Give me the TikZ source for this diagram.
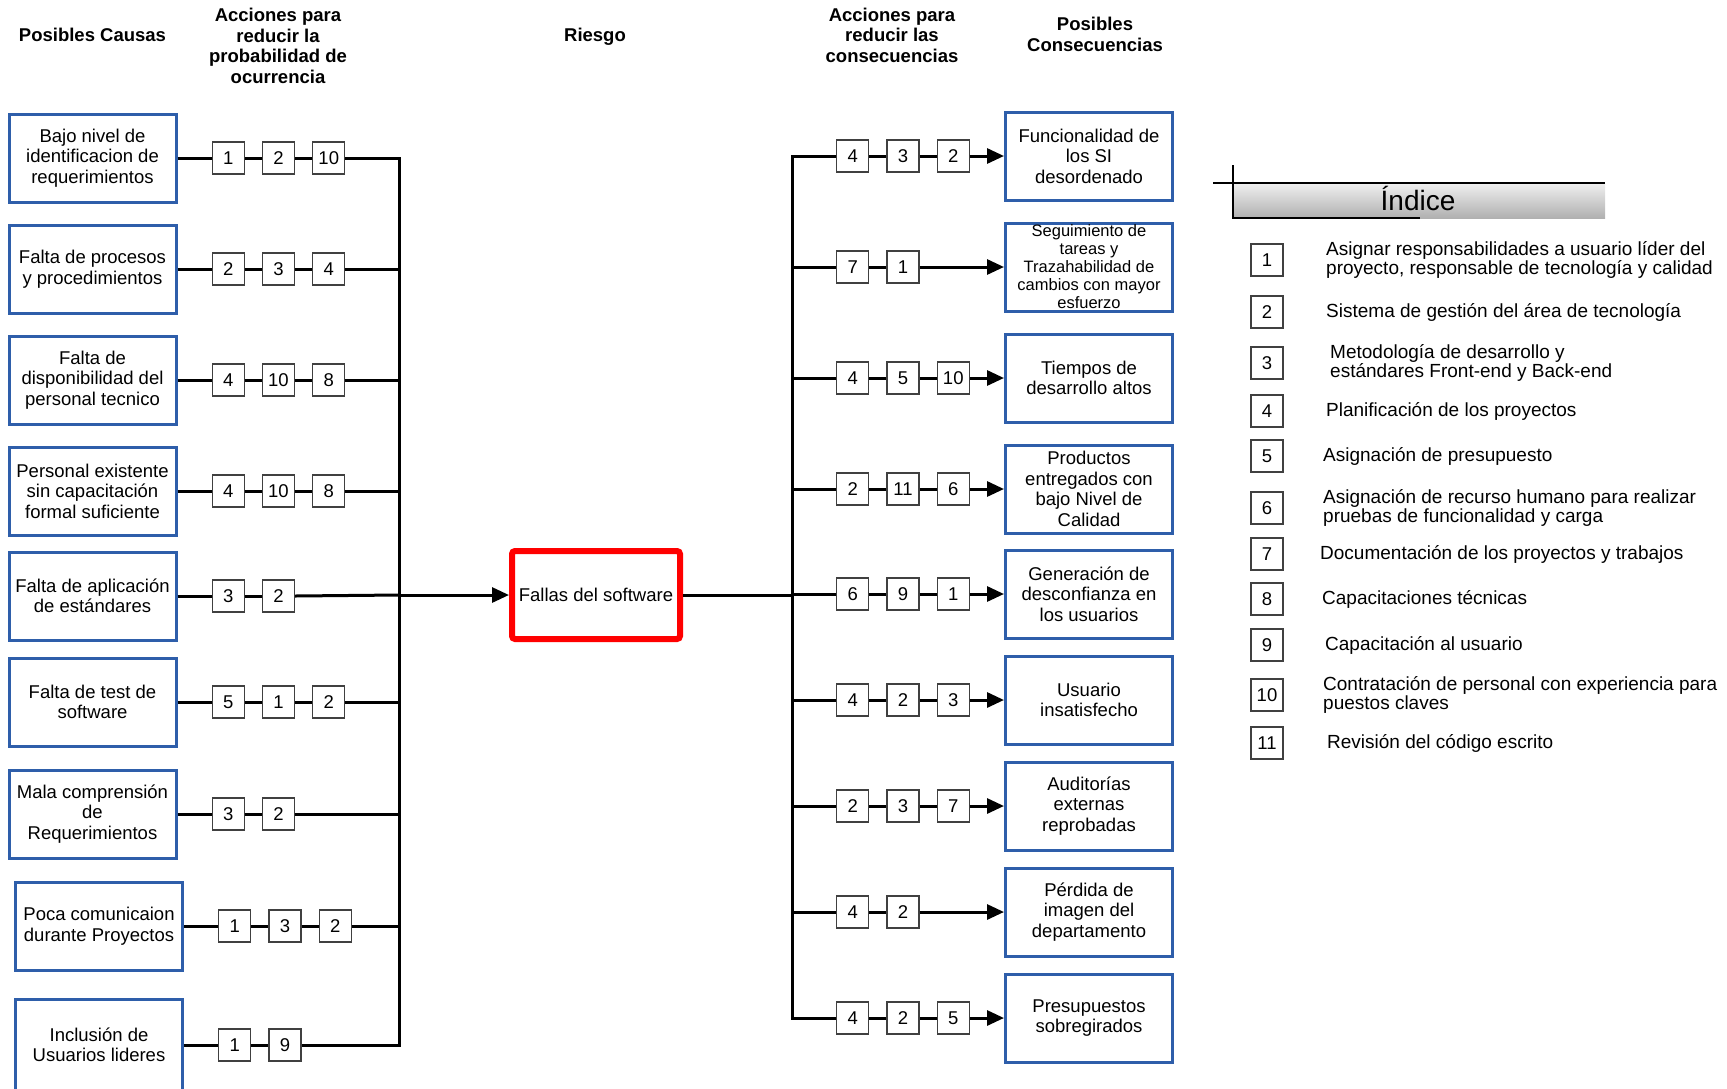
\documentclass[tikz,border=0pt]{standalone}
\usepackage{fontspec}
\setmainfont{Liberation Sans}
\usetikzlibrary{positioning,arrows.meta}
\definecolor{causeblue}{RGB}{46,94,170}

\begin{document}
\begin{tikzpicture}[
        x=1pt, y=-1pt,
        font=\fontsize{18.5}{20.5}\selectfont,
        node distance=17pt,
        header/.style={font=\fontsize{18.5}{20.5}\selectfont\bfseries, align=center},
        causa/.style={draw=causeblue, line width=3pt, minimum width=167pt, minimum height=88pt, inner sep=1pt, align=center},
        efecto/.style={causa},
        accion/.style={draw=black!75, line width=1.3pt, fill=white, minimum width=32pt, minimum height=32pt, inner sep=0pt},
        riesgo/.style={draw=red, line width=6pt, rounded corners=3pt, minimum width=168pt, minimum height=88pt, inner sep=0pt},
        indice/.style={anchor=west, align=left, inner sep=0pt, font=\fontsize{19}{19.5}\selectfont},
        link/.style={line width=3pt},
        arrow/.style={line width=3pt, -{Triangle[length=17pt,width=15pt]}},
    ]
    \useasboundingbox (0,0) rectangle (1727,1088);

    % Headers
    \node[header] (hcausas) at (92.5,35) {Posibles Causas};
    \node[header] (hprob) at (278,46) {Acciones para\\reducir la\\probabilidad de\\ocurrencia};
    \node[header] (hriesgo) at (595,37) {Riesgo};
    \node[header] (hreduc) at (892,35) {Acciones para\\reducir las\\consecuencias};
    \node[header] (hcons) at (1095,34.5) {Posibles\\Consecuencias};

    % Causes
    \node[causa] (c1) at (92.5,158) {Bajo nivel de\\identificacion de\\requerimientos};
    \node[causa] (c2) at (92.5,269) {Falta de procesos\\y procedimientos};
    \node[causa] (c3) at (92.5,380) {Falta de\\disponibilidad del\\personal tecnico};
    \node[causa] (c4) at (92.5,491) {Personal existente\\sin capacitación\\formal suficiente};
    \node[causa] (c5) at (92.5,596) {Falta de aplicación\\de estándares};
    \node[causa] (c6) at (92.5,702) {Falta de test de\\software};
    \node[causa] (c7) at (92.5,814) {Mala comprensión\\de\\Requerimientos};
    \node[causa] (c8) at (99,926) {Poca comunicaion\\durante Proyectos};
    \node[causa, minimum height=92pt] (c9) at (99,1045) {Inclusión de\\Usuarios lideres};

    % Actions on the probability
    \node[accion, right=34pt of c1] (c1a) {1};
    \node[accion, right=of c1a] (c1b) {2};
    \node[accion, right=of c1b] (c1c) {10};
    \node[accion, right=34pt of c2] (c2a) {2};
    \node[accion, right=of c2a] (c2b) {3};
    \node[accion, right=of c2b] (c2c) {4};
    \node[accion, right=34pt of c3] (c3a) {4};
    \node[accion, right=of c3a] (c3b) {10};
    \node[accion, right=of c3b] (c3c) {8};
    \node[accion, right=34pt of c4] (c4a) {4};
    \node[accion, right=of c4a] (c4b) {10};
    \node[accion, right=of c4b] (c4c) {8};
    \node[accion, right=34pt of c5] (c5a) {3};
    \node[accion, right=of c5a] (c5b) {2};
    \node[accion, right=34pt of c6] (c6a) {5};
    \node[accion, right=of c6a] (c6b) {1};
    \node[accion, right=of c6b] (c6c) {2};
    \node[accion, right=34pt of c7] (c7a) {3};
    \node[accion, right=of c7a] (c7b) {2};
    \node[accion, right=34pt of c8] (c8a) {1};
    \node[accion, right=of c8a] (c8b) {3};
    \node[accion, right=of c8b] (c8c) {2};
    \node[accion, right=34pt of c9] (c9a) {1};
    \node[accion, right=of c9a] (c9b) {9};

    % Risk
    \node[riesgo] (falla) at (596,595) {Fallas del software};
    \coordinate (busL) at (399,595);
    \coordinate (busR) at (792,595);

    % Consequences
    \node[efecto] (q1) at (1089,156) {Funcionalidad de\\los SI\\desordenado};
    \node[efecto, inner sep=0pt, font=\fontsize{16.5}{18}\selectfont] (q2) at (1089,267) {Seguimiento de\\tareas y\\Trazahabilidad de\\cambios con mayor\\esfuerzo};
    \node[efecto] (q3) at (1089,378) {Tiempos de\\desarrollo altos};
    \node[efecto] (q4) at (1089,489) {Productos\\entregados con\\bajo Nivel de\\Calidad};
    \node[efecto] (q5) at (1089,594) {Generación de\\desconfianza en\\los usuarios};
    \node[efecto] (q6) at (1089,700) {Usuario\\insatisfecho};
    \node[efecto] (q7) at (1089,806) {Auditorías\\externas\\reprobadas};
    \node[efecto] (q8) at (1089,912) {Pérdida de\\imagen del\\departamento};
    \node[efecto] (q9) at (1089,1018) {Presupuestos\\sobregirados};

    % Actions on the consequences
    \node[accion, anchor=west] (q1a) at (836,156) {4};
    \node[accion, right=of q1a] (q1b) {3};
    \node[accion, right=of q1b] (q1c) {2};
    \node[accion, anchor=west] (q2a) at (836,267) {7};
    \node[accion, right=of q2a] (q2b) {1};
    \node[accion, anchor=west] (q3a) at (836,378) {4};
    \node[accion, right=of q3a] (q3b) {5};
    \node[accion, right=of q3b] (q3c) {10};
    \node[accion, anchor=west] (q4a) at (836,489) {2};
    \node[accion, right=of q4a] (q4b) {11};
    \node[accion, right=of q4b] (q4c) {6};
    \node[accion, anchor=west] (q5a) at (836,594) {6};
    \node[accion, right=of q5a] (q5b) {9};
    \node[accion, right=of q5b] (q5c) {1};
    \node[accion, anchor=west] (q6a) at (836,700) {4};
    \node[accion, right=of q6a] (q6b) {2};
    \node[accion, right=of q6b] (q6c) {3};
    \node[accion, anchor=west] (q7a) at (836,806) {2};
    \node[accion, right=of q7a] (q7b) {3};
    \node[accion, right=of q7b] (q7c) {7};
    \node[accion, anchor=west] (q8a) at (836,912) {4};
    \node[accion, right=of q8a] (q8b) {2};
    \node[accion, anchor=west] (q9a) at (836,1018) {4};
    \node[accion, right=of q9a] (q9b) {2};
    \node[accion, right=of q9b] (q9c) {5};

    % Lines, left side
    \draw[link] (c1) -- (c1a) -- (c1b) -- (c1c);
    \draw[link] (c2) -- (c2a) -- (c2b) -- (c2c);
    \draw[link] (c3) -- (c3a) -- (c3b) -- (c3c);
    \draw[link] (c4) -- (c4a) -- (c4b) -- (c4c);
    \draw[link] (c5) -- (c5a) -- (c5b);
    \draw[link] (c6) -- (c6a) -- (c6b) -- (c6c);
    \draw[link] (c7) -- (c7a) -- (c7b);
    \draw[link] (c8) -- (c8a) -- (c8b) -- (c8c);
    \draw[link] (c9) -- (c9a) -- (c9b);
    \draw[link] (c1c.east) -| (busL |- c9b) -- (c9b.east);
    \draw[link] (c2c.east) -- (c2c -| busL);
    \draw[link] (c3c.east) -- (c3c -| busL);
    \draw[link] (c4c.east) -- (c4c -| busL);
    \draw[link] (c5b.east) -- (busL);
    \draw[link] (c6c.east) -- (c6c -| busL);
    \draw[link] (c7b.east) -- (c7b -| busL);
    \draw[link] (c8c.east) -- (c8c -| busL);
    \draw[arrow] (busL) -- (falla);

    % Lines, right side
    \draw[link] (falla) -- (busR);
    \draw[link] (q1a.west) -| (busR |- q9a) -- (q9a.west);
    \draw[link] (busR |- q2a) -- (q2a);
    \draw[link] (busR |- q3a) -- (q3a);
    \draw[link] (busR |- q4a) -- (q4a);
    \draw[link] (busR |- q5a) -- (q5a);
    \draw[link] (busR |- q6a) -- (q6a);
    \draw[link] (busR |- q7a) -- (q7a);
    \draw[link] (busR |- q8a) -- (q8a);
    \draw[link] (q1a) -- (q1b) -- (q1c);
    \draw[link] (q2a) -- (q2b);
    \draw[link] (q3a) -- (q3b) -- (q3c);
    \draw[link] (q4a) -- (q4b) -- (q4c);
    \draw[link] (q5a) -- (q5b) -- (q5c);
    \draw[link] (q6a) -- (q6b) -- (q6c);
    \draw[link] (q7a) -- (q7b) -- (q7c);
    \draw[link] (q8a) -- (q8b);
    \draw[link] (q9a) -- (q9b) -- (q9c);
    \draw[arrow] (q1c) -- (q1);
    \draw[arrow] (q2b) -- (q2);
    \draw[arrow] (q3c) -- (q3);
    \draw[arrow] (q4c) -- (q4);
    \draw[arrow] (q5c) -- (q5);
    \draw[arrow] (q6c) -- (q6);
    \draw[arrow] (q7c) -- (q7);
    \draw[arrow] (q8b) -- (q8);
    \draw[arrow] (q9c) -- (q9);

    % Index
    \shade[top color=gray!12, bottom color=gray!62] (1233,183) rectangle (1605,218);
    \draw[line width=1.3pt] (1213,183) -- (1605,183);
    \draw[line width=1.3pt] (1233,165) -- (1233,218) -- (1420,218);
    \node[font=\fontsize{28}{30}\selectfont] (tindice) at (1418,198) {Índice};

    \node[accion] (i1) at (1267,260) {1};
    \node[indice] (t1) at (1326,260) {Asignar responsabilidades a usuario líder del\\proyecto, responsable de tecnología y calidad};
    \node[accion] (i2) at (1267,312) {2};
    \node[indice] (t2) at (1326,312) {Sistema de gestión del área de tecnología};
    \node[accion] (i3) at (1267,363) {3};
    \node[indice] (t3) at (1330,363) {Metodología de desarrollo y\\estándares Front-end y Back-end};
    \node[accion] (i4) at (1267,411) {4};
    \node[indice] (t4) at (1326,411) {Planificación de los proyectos};
    \node[accion] (i5) at (1267,456) {5};
    \node[indice] (t5) at (1323,456) {Asignación de presupuesto};
    \node[accion] (i6) at (1267,508) {6};
    \node[indice] (t6) at (1323,508) {Asignación de recurso humano para realizar\\pruebas de funcionalidad y carga};
    \node[accion] (i7) at (1267,554) {7};
    \node[indice] (t7) at (1320,554) {Documentación de los proyectos y trabajos};
    \node[accion] (i8) at (1267,599) {8};
    \node[indice] (t8) at (1322,599) {Capacitaciones técnicas};
    \node[accion] (i9) at (1267,645) {9};
    \node[indice] (t9) at (1325,645) {Capacitación al usuario};
    \node[accion] (i10) at (1267,695) {10};
    \node[indice] (t10) at (1323,695) {Contratación de personal con experiencia para\\puestos claves};
    \node[accion] (i11) at (1267,743) {11};
    \node[indice] (t11) at (1327,743) {Revisión del código escrito};

\end{tikzpicture}
\end{document}
